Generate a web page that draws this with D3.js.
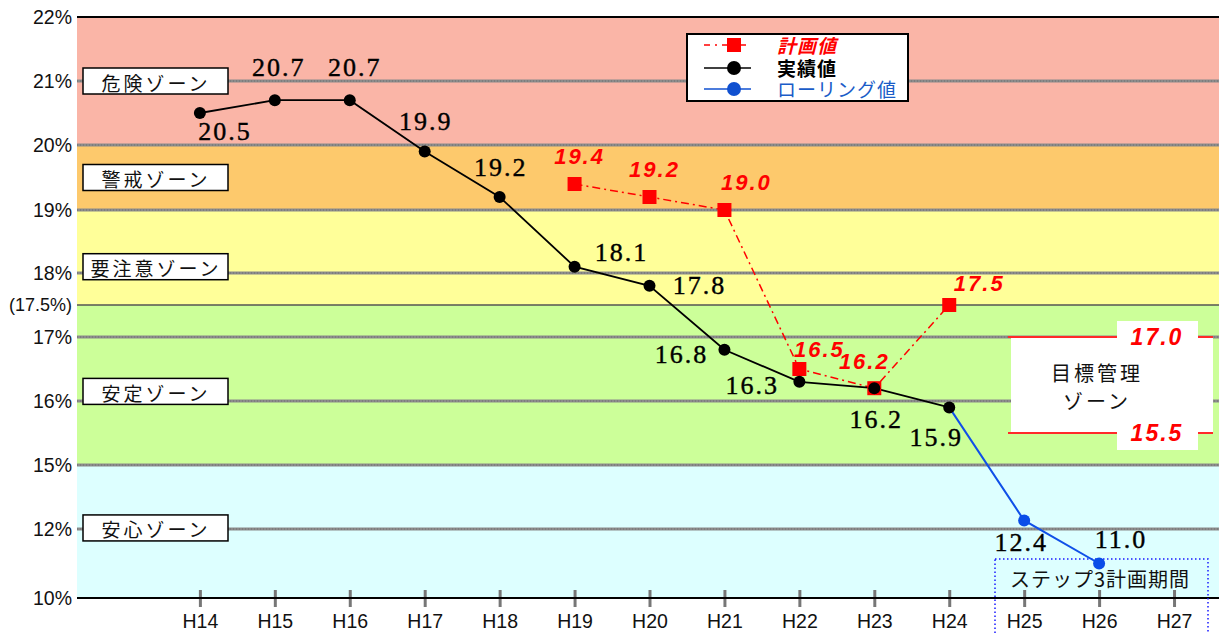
<!DOCTYPE html>
<html>
<head>
<meta charset="utf-8">
<script src="https://cdn.jsdelivr.net/npm/d3@7"></script>
<style>
  html, body { margin: 0; padding: 0; background: #fff; }
  svg { display: block; }
</style>
</head>
<body>
<svg id="chart" width="1219" height="633"></svg>
<script>
// Fiscal years on the horizontal axis
const years = ["H14","H15","H16","H17","H18","H19","H20","H21","H22","H23","H24","H25","H26","H27"];

// 実績値 (actual ratio, %)
const actualYears  = ["H14","H15","H16","H17","H18","H19","H20","H21","H22","H23","H24"];
const actualValues = [20.5, 20.7, 20.7, 19.9, 19.2, 18.1, 17.8, 16.8, 16.3, 16.2, 15.9];

// 計画値 (planned ratio, %)
const planYears  = ["H19","H20","H21","H22","H23","H24"];
const planValues = [19.4, 19.2, 19.0, 16.5, 16.2, 17.5];

// ローリング値 (rolling projection, %)
const rollingYears  = ["H24","H25","H26"];
const rollingValues = [15.9, 12.4, 11.0];

// Vertical axis ticks (non-uniform break points)
const yTicks      = [10, 12, 15, 16, 17, 17.5, 18, 19, 20, 21, 22];
const yTickLabels = ["10%","12%","15%","16%","17%","(17.5%)","18%","19%","20%","21%","22%"];

// Zones
const zoneNames = ["危険ゾーン","警戒ゾーン","要注意ゾーン","安定ゾーン","安心ゾーン"];
const zoneLow   = [20, 19, 17.5, 15, 10];
const zoneHigh  = [22, 20, 19, 17.5, 15];
const zoneLabelAt = [21, 19.5, 18.1, 16.15, 12.05];

// 目標管理ゾーン bounds
const targetLow = 15.5, targetHigh = 17.0;

// ---------------------------------------------------------------
const svg = d3.select("#chart");
const L = 77, R = 1219, T = 17, B = 598;

const yearNum = y => +y.slice(1);
const x = d3.scaleLinear().domain([12.36, 27.6]).range([L, R]);
const xy = y => x(yearNum(y));

// piecewise scale: each break point gets an equal share of the height
const yBreaks = [10, 12, 15, 16, 17, 18, 19, 20, 21, 22];
const y = d3.scaleLinear()
  .domain(yBreaks)
  .range([598, 529, 465, 401, 337, 273, 210, 145, 81, 17]);

const zoneColors = ["#FAB5A7", "#FDC96C", "#FFFF99", "#CCFF99", "#DDFFFF"];

const sans = "'Liberation Sans', Arial, sans-serif";
const jp = "'Noto Sans CJK JP', 'Noto Sans', sans-serif";
const jpTight = "'Liberation Sans', 'Noto Sans CJK JP', sans-serif";
const serif = "'Liberation Serif', 'Times New Roman', serif";

// zone backgrounds
svg.append("g").selectAll("rect").data(zoneNames).join("rect")
  .attr("x", L).attr("width", R - L)
  .attr("y", (d, i) => y(zoneHigh[i]))
  .attr("height", (d, i) => y(zoneLow[i]) - y(zoneHigh[i]))
  .attr("fill", (d, i) => zoneColors[i]);

// grid lines
const grid = svg.append("g");
yTicks.forEach(v => {
  if (v === 10 || v === 22) return;
  if (v === 17.5) {
    grid.append("line").attr("x1", L).attr("x2", R).attr("y1", y(v)).attr("y2", y(v))
      .attr("stroke", "#555").attr("stroke-width", 1.3);
  } else {
    grid.append("line").attr("x1", L).attr("x2", R).attr("y1", y(v)).attr("y2", y(v))
      .attr("stroke", "#8c8c8c").attr("stroke-width", 3);
    grid.append("line").attr("x1", L).attr("x2", R).attr("y1", y(v)).attr("y2", y(v))
      .attr("stroke", "#6e6e6e").attr("stroke-width", 1).attr("stroke-dasharray", "1,2");
  }
});
// top border
svg.append("line").attr("x1", L).attr("x2", R).attr("y1", y(22)).attr("y2", y(22))
  .attr("stroke", "#000").attr("stroke-width", 2);

// y tick labels
svg.append("g").selectAll("text").data(yTicks).join("text")
  .attr("x", 72).attr("y", d => y(d))
  .attr("text-anchor", "end").attr("dominant-baseline", "central")
  .attr("font-family", sans).attr("font-size", d => d === 17.5 ? 18 : 19.5)
  .attr("fill", "#111")
  .text((d, i) => yTickLabels[i]);

// x axis
const xAxis = d3.axisBottom(x).tickValues(years.map(yearNum))
  .tickFormat(d => "H" + d).tickSize(0).tickPadding(0);
const gx = svg.append("g").attr("transform", `translate(0,${B})`).call(xAxis);
gx.select(".domain").remove();
gx.selectAll(".tick line").remove();
gx.selectAll(".tick").append("line")
  .attr("y1", -8).attr("y2", 9).attr("stroke", "#777").attr("stroke-width", 3);
gx.selectAll(".tick text")
  .attr("y", 23).attr("dy", "0.35em")
  .attr("font-family", sans).attr("font-size", 19.5).attr("fill", "#111");
svg.append("line").attr("x1", L).attr("x2", R).attr("y1", B).attr("y2", B)
  .attr("stroke", "#000").attr("stroke-width", 2);

// zone labels
const zl = svg.append("g").selectAll("g").data(zoneNames).join("g")
  .attr("transform", (d, i) => `translate(83,${y(zoneLabelAt[i])})`);
zl.append("rect").attr("x", 0).attr("y", -13).attr("width", 145).attr("height", 26)
  .attr("fill", "#fff").attr("stroke", "#000").attr("stroke-width", 1.5);
zl.append("text").attr("x", 73).attr("y", 1)
  .attr("text-anchor", "middle").attr("dominant-baseline", "central")
  .attr("font-family", jp).attr("font-size", 19).attr("letter-spacing", 3)
  .attr("fill", "#111").text(d => d);

// target management zone
const tz = svg.append("g");
tz.append("rect").attr("x", 1011).attr("width", 202)
  .attr("y", y(targetHigh)).attr("height", y(targetLow) - y(targetHigh))
  .attr("fill", "#fff");
[targetHigh, targetLow].forEach(v => {
  tz.append("line").attr("x1", 1008).attr("x2", 1213).attr("y1", y(v)).attr("y2", y(v))
    .attr("stroke", "#ff2a2a").attr("stroke-width", 2);
  tz.append("rect").attr("x", 1117).attr("width", 81)
    .attr("y", y(v) - 16).attr("height", 33).attr("fill", "#fff");
  tz.append("text").attr("x", 1157).attr("y", y(v))
    .attr("text-anchor", "middle").attr("dominant-baseline", "central")
    .attr("font-family", sans).attr("font-weight", "bold").attr("font-style", "italic")
    .attr("font-size", 23).attr("letter-spacing", 2).attr("fill", "#ff0000")
    .text(v.toFixed(1));
});
tz.append("text").attr("x", 1097).attr("y", 372)
  .attr("text-anchor", "middle").attr("dominant-baseline", "central")
  .attr("font-family", jp).attr("font-size", 20).attr("letter-spacing", 3)
  .attr("fill", "#111").text("目標管理");
tz.append("text").attr("x", 1097).attr("y", 400)
  .attr("text-anchor", "middle").attr("dominant-baseline", "central")
  .attr("font-family", jp).attr("font-size", 20).attr("letter-spacing", 3)
  .attr("fill", "#111").text("ゾーン");

// step 3 plan period box
svg.append("rect").attr("x", 995).attr("y", 559).attr("width", 213).attr("height", 90)
  .attr("fill", "none").attr("stroke", "#1a1aff").attr("stroke-width", 1.5)
  .attr("stroke-dasharray", "1.5,2.5");
svg.append("text").attr("x", 1100).attr("y", 578)
  .attr("text-anchor", "middle").attr("dominant-baseline", "central")
  .attr("font-family", jp).attr("font-size", 20).attr("letter-spacing", 1)
  .attr("fill", "#111").text("ステップ3計画期間");

// lines
const line = d3.line().x(d => xy(d[0])).y(d => y(d[1]));
const planPts = planYears.map((d, i) => [d, planValues[i]]);
const actualPts = actualYears.map((d, i) => [d, actualValues[i]]);
const rollingPts = rollingYears.map((d, i) => [d, rollingValues[i]]);

svg.append("path").attr("d", line(planPts)).attr("fill", "none")
  .attr("stroke", "#ff0000").attr("stroke-width", 1.5).attr("stroke-dasharray", "8,4,2,4");
svg.append("path").attr("d", line(rollingPts)).attr("fill", "none")
  .attr("stroke", "#1050e8").attr("stroke-width", 2);
svg.append("path").attr("d", line(actualPts)).attr("fill", "none")
  .attr("stroke", "#000").attr("stroke-width", 1.8);

// markers
svg.append("g").selectAll("rect").data(planPts).join("rect")
  .attr("x", d => xy(d[0]) - 7).attr("y", d => y(d[1]) - 7)
  .attr("width", 14).attr("height", 14).attr("fill", "#ff0000");
svg.append("g").selectAll("circle").data(rollingPts.slice(1)).join("circle")
  .attr("cx", d => xy(d[0])).attr("cy", d => y(d[1])).attr("r", 6)
  .attr("fill", "#0a4de8");
svg.append("g").selectAll("circle").data(actualPts).join("circle")
  .attr("cx", d => xy(d[0])).attr("cy", d => y(d[1])).attr("r", 6)
  .attr("fill", "#000");

// value labels (offsets from each point)
const actualOffsets = [[25,18],[4,-33],[5,-33],[1,-30],[1,-30],[47,-14],[50,0],[-43,5],[-47,4],[2,31],[-13,30]];
const rollingOffsets = [null,[-3,22],[22,-24]];
const planOffsets = [[5,-28],[5,-28],[22,-28],[20,-20],[-10,-27],[30,-22]];

const valueLabel = (g, pts, offs, style) => {
  g.selectAll("text").data(pts.map((p, i) => [p, offs[i]]).filter(d => d[1])).join("text")
    .attr("x", d => xy(d[0][0]) + d[1][0])
    .attr("y", d => y(d[0][1]) + d[1][1])
    .attr("text-anchor", "middle").attr("dominant-baseline", "central")
    .call(style)
    .text(d => d[0][1].toFixed(1));
};
const serifStyle = s => s.attr("font-family", serif).attr("font-size", 26)
  .attr("letter-spacing", 2).attr("fill", "#000")
  .attr("stroke", "#000").attr("stroke-width", 0.4);
const planStyle = s => s.attr("font-family", sans).attr("font-size", 22)
  .attr("font-weight", "bold").attr("font-style", "italic")
  .attr("letter-spacing", 2).attr("fill", "#ff0000");

valueLabel(svg.append("g"), actualPts, actualOffsets, serifStyle);
valueLabel(svg.append("g"), rollingPts, rollingOffsets, serifStyle);
valueLabel(svg.append("g"), planPts, planOffsets, planStyle);

// legend
const lg = svg.append("g");
lg.append("rect").attr("x", 687).attr("y", 34).attr("width", 221).attr("height", 67)
  .attr("fill", "#fff").attr("stroke", "#000").attr("stroke-width", 2);
const legendItems = [
  { label: "計画値", color: "#ff0000", dash: "6,5,2,5", shape: "square", weight: "bold", italic: true, textColor: "#ff0000", y: 45 },
  { label: "実績値", color: "#000", dash: null, shape: "circle", weight: "bold", italic: false, textColor: "#000", y: 68 },
  { label: "ローリング値", color: "#1050d0", dash: null, shape: "circle", weight: "normal", italic: false, textColor: "#1a5cc8", y: 89 }
];
legendItems.forEach(it => {
  lg.append("line").attr("x1", 704).attr("x2", 751).attr("y1", it.y).attr("y2", it.y)
    .attr("stroke", it.color).attr("stroke-width", 1.5)
    .attr("stroke-dasharray", it.dash);
  if (it.shape === "square") {
    lg.append("rect").attr("x", 727).attr("y", it.y - 7).attr("width", 14).attr("height", 14)
      .attr("fill", it.color);
  } else {
    lg.append("circle").attr("cx", 734).attr("cy", it.y).attr("r", 7).attr("fill", it.color);
  }
  lg.append("text").attr("x", 777).attr("y", it.y + 1)
    .attr("dominant-baseline", "central")
    .attr("font-family", jpTight).attr("font-size", 19)
    .attr("font-weight", it.weight)
    .attr("font-style", it.italic ? "italic" : "normal")
    .attr("letter-spacing", 1)
    .attr("fill", it.textColor).text(it.label);
});
</script>
</body>
</html>
